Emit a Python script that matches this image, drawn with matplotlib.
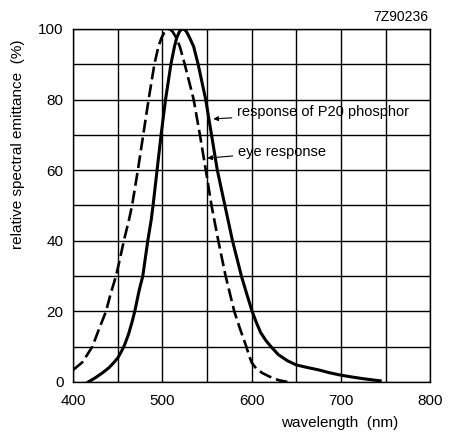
import matplotlib
matplotlib.use('Agg')
import matplotlib.pyplot as plt
import numpy as np

plt.rcParams['font.family'] = ['Liberation Sans', 'DejaVu Sans']

# ── Data ────────────────────────────────────────────────────────────
p20_wl  = [417, 425, 433, 440, 446, 450, 454, 457.6, 462, 466, 469, 474, 478, 483.6, 487.5,
           489.5, 494, 498.5, 503.5, 509.5, 513.5, 516, 519, 521, 523, 525, 527, 530.5, 535,
           540, 548.5, 555, 561.5, 570, 578.5, 588.5, 595, 600.5, 605, 610, 616, 621.6, 630,
           640, 650, 662, 675, 687, 700, 712, 725, 744]
p20_val = [0, 1.2, 2.6, 4, 5.6, 6.8, 8.6, 10.5, 13.5, 17, 20, 26, 30, 40, 46,
           50, 60, 70, 80, 90, 95, 97.5, 99.2, 99.8, 100, 99.8, 99.2, 97.5, 95,
           90, 80, 70, 60, 50, 40, 30, 24.5, 20, 17, 14, 11.7, 10, 7.7,
           6, 4.8, 4.1, 3.4, 2.6, 1.9, 1.4, 0.9, 0.3]

eye_wl  = [400, 410, 416, 421.5, 429, 436.8, 442, 448, 452.5, 456.8, 462.6, 466, 472.5, 478.5,
           484.5, 491, 495.5, 499, 502.5, 505, 507, 509, 511.5, 515.5, 519.5, 525, 535, 542,
           548.6, 555, 562.6, 570.8, 580.5, 587, 594, 597, 600, 605, 612, 620, 630, 640]
eye_val = [3.4, 5.5, 7.8, 10, 15, 20, 25, 30, 35, 40, 46, 50, 60, 70,
           80, 90, 95, 97.5, 99.2, 99.8, 100, 99.8, 99.2, 97.5, 95, 90, 80, 70,
           60, 50, 40, 30, 20, 15, 10, 7.5, 5.5, 3.8, 2.5, 1.5, 0.5, 0]

x_labels = [400, 500, 600, 700, 800]
y_labels = [0, 20, 40, 60, 80, 100]

# ── Plot ────────────────────────────────────────────────────────────
fig = plt.figure(figsize=(4.49, 4.32), dpi=100)
ax = fig.add_axes([0.163, 0.116, 0.795, 0.817])

ax.plot(p20_wl, p20_val, color='black', lw=2.2, solid_joinstyle='round')
ax.plot(eye_wl, eye_val, color='black', lw=1.9, dashes=(4.9, 1.9))

ax.set_xlim(400, 800)
ax.set_ylim(0, 100)
xt = list(range(400, 801, 50))
yt = list(range(0, 101, 10))
ax.set_xticks(xt)
ax.set_xticklabels([str(v) if v in x_labels else '' for v in xt], fontsize=11)
ax.set_yticks(yt)
ax.set_yticklabels([str(v) if v in y_labels else '' for v in yt], fontsize=11)
ax.tick_params(axis='x', length=0, pad=9)
ax.tick_params(axis='y', length=0, pad=7)
ax.grid(True, color='black', lw=1.0)
for s in ax.spines.values():
    s.set_linewidth(1.0)

fig.text(0.04, 0.667, 'relative spectral emittance  (%)', fontsize=11,
         rotation=90, ha='center', va='center')
fig.text(0.887, 0.021, 'wavelength  (nm)', fontsize=11, ha='right', va='center')
fig.text(0.954, 0.96, '7Z90236', fontsize=10, ha='right', va='center')

arrow = dict(arrowstyle='-|>', color='black', lw=0.8, mutation_scale=7, shrinkA=2, shrinkB=0)
ax.annotate('response of P20 phosphor', xy=(557, 74.5), xytext=(584, 76.4),
            fontsize=10.5, va='center', arrowprops=arrow)
ax.annotate('eye response', xy=(550.3, 63.4), xytext=(585, 65.2),
            fontsize=10.5, va='center', arrowprops=arrow)

plt.savefig('out.png', dpi=100)
plt.close()
